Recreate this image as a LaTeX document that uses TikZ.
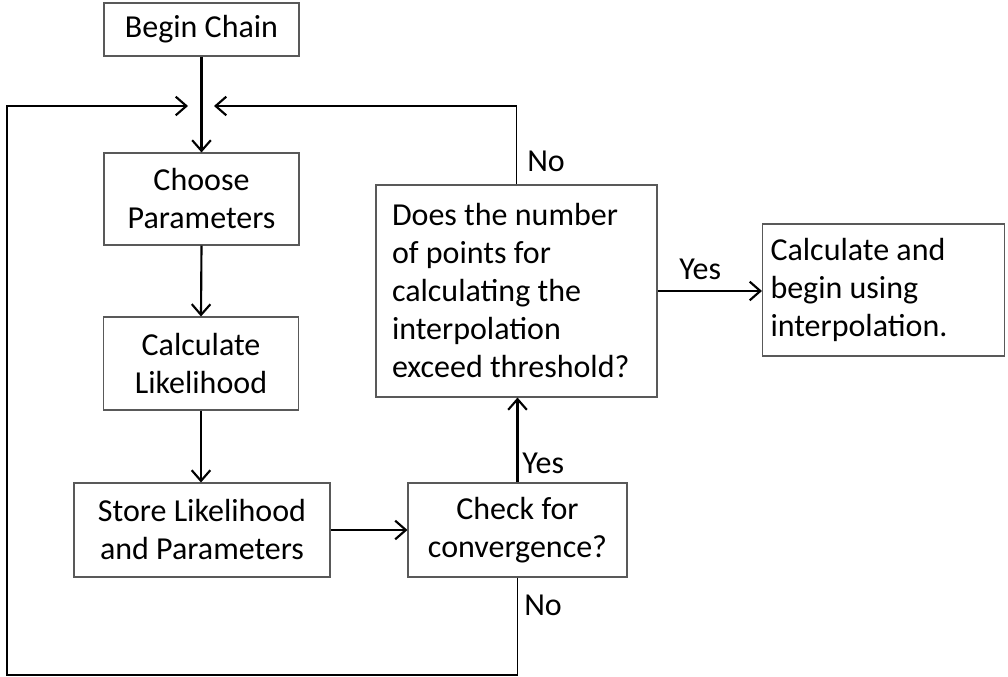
\documentclass[tikz,border=0pt]{standalone}
\usepackage{fontspec}
\setmainfont{Carlito}
\usetikzlibrary{arrows.meta}
\tikzset{
  txt/.style={font=\fontsize{24}{28.5}\selectfont},
  box/.style={txt, draw=black!65, line width=0.8pt, inner sep=0pt, align=center},
  lbox/.style={box, align=flush left},
  tip/.style={-{Straight Barb[length=8pt,width=14pt,line width=1.6pt]}},
  conn/.style={line width=1.6pt, tip},
  loopline/.style={line width=1.2pt},
  lbl/.style={txt, inner sep=0pt, anchor=base west}
}
\begin{document}
\begin{tikzpicture}[x=0.75pt,y=-0.75pt]
\useasboundingbox (0,0) rectangle (1008,677);
% boxes
\node[box, minimum width=146.25pt, minimum height=39.75pt] (begin) at (201.5,29.5) {Begin Chain};
\node[box, minimum width=146.25pt, minimum height=69pt] (choose) at (201.5,199) {Choose\\Parameters};
\node[box, minimum width=146.25pt, minimum height=69.75pt] (calc) at (201,363.5) {Calculate\\Likelihood};
\node[box, minimum width=192pt, minimum height=70.5pt] (store) at (202,530) {Store Likelihood\\and Parameters};
\node[box, minimum width=164.25pt, minimum height=70.5pt] (check) at (517.5,530) {Check for\\convergence?};
\node[lbox, inner xsep=12pt, text width=186.75pt, minimum height=159pt] (does) at (516.5,291)
  {Does the number\\of points for\\calculating the\\interpolation\\exceed threshold?};
\node[lbox, inner xsep=6pt, text width=169.5pt, minimum height=99pt] (interp) at (883.5,290)
  {Calculate and\\begin using\\interpolation.};
% coordinates
\coordinate (ltip) at (188,106);
\coordinate (rtip) at (214,106);
\coordinate (bl) at (7,675);
% connectors
\draw[conn] (begin.south) -- (choose.north);
\draw[conn] (choose.south) -- (calc.north);
\draw[conn] (calc.south) -- (calc.south |- store.north);
\draw[conn] (store.east) -- (store.east -| check.west);
\draw[conn] (check.north) -- (check.north |- does.south);
\draw[conn] (does.east) -- (does.east -| interp.west);
\draw[loopline, tip] (does.north) |- (rtip);
\draw[loopline, tip] (check.south) |- (bl) |- (ltip);
% labels
\node[lbl] (no1) at (527,172) {No};
\node[lbl] (yes1) at (679,280) {Yes};
\node[lbl] (yes2) at (522,474) {Yes};
\node[lbl] (no2) at (524,615) {No};
\end{tikzpicture}
\end{document}
